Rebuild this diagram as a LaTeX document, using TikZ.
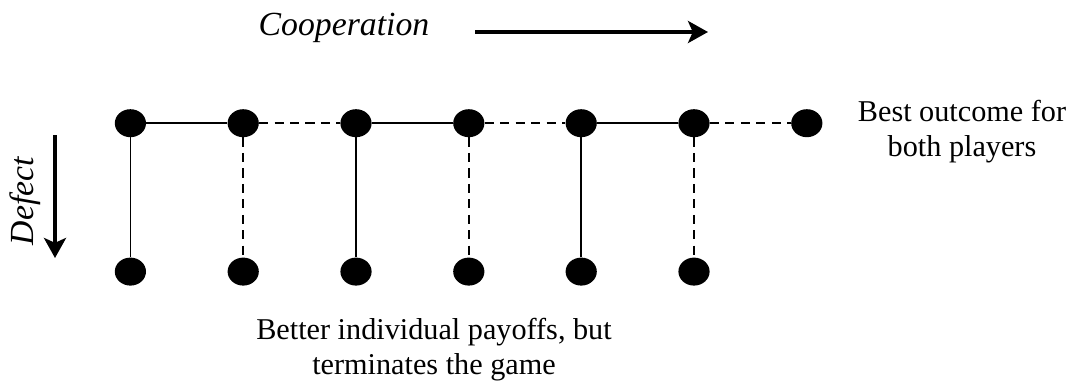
\documentclass[tikz,border=0pt]{standalone}
\usepackage{fontspec}
\setmainfont{Liberation Serif}
\usetikzlibrary{arrows.meta,shapes.geometric}
\begin{document}
\begin{tikzpicture}[dot/.style={ellipse,fill=black,minimum width=0.78cm,minimum height=0.7cm,inner sep=0pt},
 link/.style={line width=1.2pt},
 dlink/.style={line width=1.2pt,dash pattern=on 6.5pt off 4.5pt},
 big/.style={-{Stealth[length=0.5cm,width=0.55cm,inset=0.12cm]},line width=2.8pt}]
\useasboundingbox (0,0) rectangle (26.825,-9.525);
 \node[dot] (t1) at (3.26,-3.08){};
 \node[dot] (t2) at (6.08,-3.08){};
 \node[dot] (t3) at (8.90,-3.08){};
 \node[dot] (t4) at (11.72,-3.08){};
 \node[dot] (t5) at (14.53,-3.08){};
 \node[dot] (t6) at (17.35,-3.08){};
 \node[dot] (t7) at (20.17,-3.08){};
 \node[dot] (b1) at (3.26,-6.79){};
 \node[dot] (b2) at (6.08,-6.79){};
 \node[dot] (b3) at (8.90,-6.79){};
 \node[dot] (b4) at (11.72,-6.79){};
 \node[dot] (b5) at (14.53,-6.79){};
 \node[dot] (b6) at (17.35,-6.79){};
 \draw[link] (t1)--(t2);
 \draw[dlink] (t2)--(t3);
 \draw[link] (t3)--(t4);
 \draw[dlink] (t4)--(t5);
 \draw[link] (t5)--(t6);
 \draw[dlink] (t6)--(t7);
 \draw[link] (t1)--(b1);
 \draw[dlink] (t2)--(b2);
 \draw[link] (t3)--(b3);
 \draw[dlink] (t4)--(b4);
 \draw[link] (t5)--(b5);
 \draw[dlink] (t6)--(b6);
 \node[font=\fontsize{24}{24}\selectfont\itshape] (coop) at (8.6,-0.69){Cooperation};
 \coordinate (ca) at (11.875,-0.8);
 \coordinate (cb) at (17.7,-0.8);
 \draw[big] (ca)--(cb);
 \node[rotate=90,font=\fontsize{24}{24}\selectfont\itshape] (defect) at (0.625,-5.025){Defect};
 \coordinate (da) at (1.375,-3.375);
 \coordinate (db) at (1.375,-6.45);
 \draw[big] (da)--(db);
 \node[align=center,font=\fontsize{21.5}{25}\selectfont] (best) at (24.05,-3.3){Best outcome for\\both players};
 \node[align=center,font=\fontsize{21.5}{25}\selectfont] (better) at (10.85,-8.75){Better individual payoffs, but\\terminates the game};
\end{tikzpicture}
\end{document}
